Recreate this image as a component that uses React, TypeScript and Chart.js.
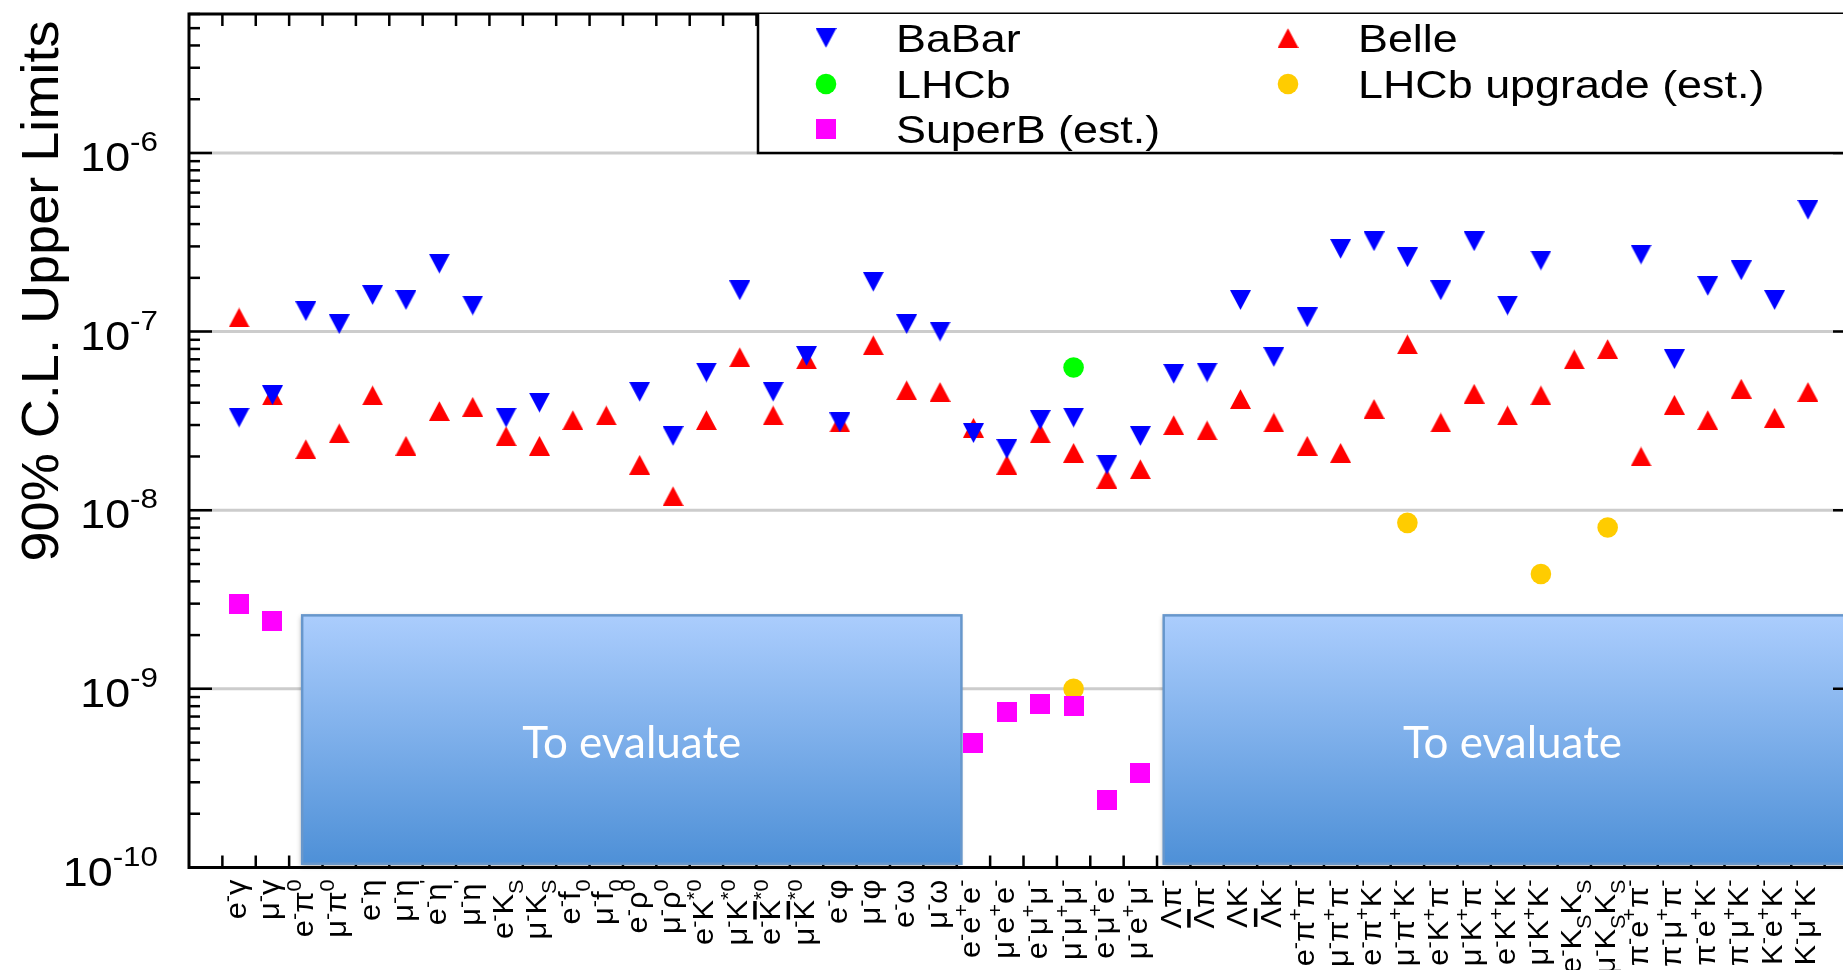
import React, { useEffect, useRef } from 'react';
import { Chart, registerables } from 'chart.js';

Chart.register(...registerables);

// ---------------- DATA ----------------
const categories: string[] = [
  'e^{-}γ', 'μ^{-}γ', 'e^{-}π^{0}', 'μ^{-}π^{0}', 'e^{-}η', 'μ^{-}η', "e^{-}η^{'}", "μ^{-}η^{'}",
  'e^{-}K_{S}', 'μ^{-}K_{S}', 'e^{-}f_{0}', 'μ^{-}f_{0}', 'e^{-}ρ^{0}', 'μ^{-}ρ^{0}',
  'e^{-}K^{*0}', 'μ^{-}K^{*0}', 'e^{-}#bar{K}^{*0}', 'μ^{-}#bar{K}^{*0}', 'e^{-}φ', 'μ^{-}φ',
  'e^{-}ω', 'μ^{-}ω', 'e^{-}e^{+}e^{-}', 'μ^{-}e^{+}e^{-}', 'e^{-}μ^{+}μ^{-}', 'μ^{-}μ^{+}μ^{-}',
  'e^{-}μ^{+}e^{-}', 'μ^{-}e^{+}μ^{-}', 'Λπ^{-}', '#bar{Λ}π^{-}', 'ΛK^{-}', '#bar{Λ}K^{-}',
  'e^{-}π^{+}π^{-}', 'μ^{-}π^{+}π^{-}', 'e^{-}π^{+}K^{-}', 'μ^{-}π^{+}K^{-}', 'e^{-}K^{+}π^{-}',
  'μ^{-}K^{+}π^{-}', 'e^{-}K^{+}K^{-}', 'μ^{-}K^{+}K^{-}', 'e^{-}K_{S}K_{S}', 'μ^{-}K_{S}K_{S}',
  'π^{-}e^{+}π^{-}', 'π^{-}μ^{+}π^{-}', 'π^{-}e^{+}K^{-}', 'π^{-}μ^{+}K^{-}', 'K^{-}e^{+}K^{-}', 'K^{-}μ^{+}K^{-}',
];

const babar: (number | null)[] = [
  3.3e-8, 4.4e-8, 1.3e-7, 1.1e-7, 1.6e-7, 1.5e-7, 2.4e-7, 1.4e-7,
  3.3e-8, 4.0e-8, null, null, 4.6e-8, 2.6e-8,
  5.9e-8, 1.7e-7, 4.6e-8, 7.3e-8, 3.1e-8, 1.9e-7,
  1.1e-7, 1.0e-7, 2.7e-8, 2.2e-8, 3.2e-8, 3.3e-8,
  1.8e-8, 2.6e-8, 5.8e-8, 5.9e-8, 1.5e-7, 7.2e-8,
  1.2e-7, 2.9e-7, 3.2e-7, 2.6e-7, 1.7e-7,
  3.2e-7, 1.4e-7, 2.5e-7, null, null,
  2.7e-7, 7.0e-8, 1.8e-7, 2.2e-7, 1.5e-7, 4.8e-7,
];

const belle: (number | null)[] = [
  1.2e-7, 4.4e-8, 2.2e-8, 2.7e-8, 4.4e-8, 2.3e-8, 3.6e-8, 3.8e-8,
  2.6e-8, 2.3e-8, 3.2e-8, 3.4e-8, 1.8e-8, 1.2e-8,
  3.2e-8, 7.2e-8, 3.4e-8, 7.0e-8, 3.1e-8, 8.4e-8,
  4.7e-8, 4.6e-8, 2.9e-8, 1.8e-8, 2.7e-8, 2.1e-8,
  1.5e-8, 1.7e-8, 3.0e-8, 2.8e-8, 4.2e-8, 3.1e-8,
  2.3e-8, 2.1e-8, 3.7e-8, 8.5e-8, 3.1e-8,
  4.5e-8, 3.4e-8, 4.4e-8, 7.0e-8, 8.0e-8,
  2.0e-8, 3.9e-8, 3.2e-8, 4.8e-8, 3.3e-8, 4.6e-8,
];

const lhcbIdx = [25];
const lhcbVal = [6.3e-8];
const upgradeIdx = [25, 35, 39, 41];
const upgradeVal = [1.0e-9, 8.5e-9, 4.4e-9, 8.0e-9];
const superbIdx = [0, 1, 22, 23, 24, 25, 26, 27];
const superbVal = [3.0e-9, 2.4e-9, 5.0e-10, 7.4e-10, 8.2e-10, 8.0e-10, 2.4e-10, 3.4e-10];

const yExponents = [-10, -9, -8, -7, -6];
const seriesNames = ['BaBar', 'Belle', 'LHCb', 'LHCb upgrade (est.)', 'SuperB (est.)'];
const yTitle = '90% C.L. Upper Limits';
const boxText = 'To evaluate';
// "To evaluate" regions, in category-index / value units
const boxFrom = [1.89, 27.7];
const boxTo = [21.64, 48.6];
const boxTop = 2.58e-9;
const boxBottom = 1.05e-10;

// ---------------- STYLE ----------------
const FONT = '"Liberation Sans", Arial, Helvetica, sans-serif';
const C_BLUE = '#0000ff';
const C_RED = '#ff0000';
const C_GREEN = '#00ff00';
const C_YELLOW = '#ffcc00';
const C_MAGENTA = '#ff00ff';

function makeMarker(kind: 'up' | 'down' | 'square', color: string): HTMLCanvasElement {
  const c = document.createElement('canvas');
  const w = kind === 'square' ? 20 : 21;
  const h = 20;
  c.width = w;
  c.height = h;
  const g = c.getContext('2d')!;
  g.fillStyle = color;
  g.beginPath();
  if (kind === 'up') {
    g.moveTo(w / 2, 0.3);
    g.lineTo(w, h);
    g.lineTo(0, h);
  } else if (kind === 'down') {
    g.moveTo(0, 0);
    g.lineTo(w, 0);
    g.lineTo(w / 2, h - 0.3);
  } else {
    g.rect(0, 0, w, h);
  }
  g.closePath();
  g.fill();
  return c;
}

type Seg = { t: string; m: 0 | 1 | 2; bar?: boolean };
function parseLabel(s: string): Seg[] {
  const segs: Seg[] = [];
  let i = 0;
  while (i < s.length) {
    if (s[i] === '^' || s[i] === '_') {
      const end = s.indexOf('}', i);
      segs.push({ t: s.slice(i + 2, end), m: s[i] === '^' ? 1 : 2 });
      i = end + 1;
    } else if (s.startsWith('#bar{', i)) {
      const end = s.indexOf('}', i);
      segs.push({ t: s.slice(i + 5, end), m: 0, bar: true });
      i = end + 1;
    } else {
      let j = i;
      while (j < s.length && s[j] !== '^' && s[j] !== '_' && !s.startsWith('#bar{', j)) j++;
      segs.push({ t: s.slice(i, j), m: 0 });
      i = j;
    }
  }
  return segs;
}

function richWidth(ctx: CanvasRenderingContext2D, segs: Seg[], base: number, small: number, gap: number) {
  let w = 0;
  for (const s of segs) {
    ctx.font = `${s.m ? small : base}px ${FONT}`;
    w += ctx.measureText(s.t).width + (s.m ? gap : 0);
  }
  return w;
}

function drawRich(
  ctx: CanvasRenderingContext2D, segs: Seg[], x0: number, y0: number,
  base: number, small: number, supDy: number, subDy: number, gap: number,
) {
  let x = x0;
  ctx.textAlign = 'left';
  ctx.textBaseline = 'alphabetic';
  for (const s of segs) {
    ctx.font = `${s.m ? small : base}px ${FONT}`;
    const dy = s.m === 1 ? supDy : s.m === 2 ? subDy : 0;
    if (s.m) x += gap / 2;
    ctx.fillText(s.t, x, y0 + dy);
    const w = ctx.measureText(s.t).width;
    if (s.bar) {
      ctx.save();
      ctx.lineWidth = 3.5;
      ctx.strokeStyle = ctx.fillStyle as string;
      ctx.beginPath();
      ctx.moveTo(x + 1, y0 - base * 0.84);
      ctx.lineTo(x + w - 1, y0 - base * 0.84);
      ctx.stroke();
      ctx.restore();
    }
    x += w;
    if (s.m) x += gap / 2;
  }
}

const decorPlugin = {
  id: 'decor',
  beforeDatasetsDraw(chart: any) {
    const { ctx, chartArea: a, scales } = chart;
    const x = scales.x;
    const y = scales.y;
    ctx.save();
    // horizontal grid at decades
    ctx.strokeStyle = '#cccccc';
    ctx.lineWidth = 3;
    for (const e of yExponents) {
      if (e === yExponents[0]) continue;
      const py = y.getPixelForValue(Math.pow(10, e));
      ctx.beginPath();
      ctx.moveTo(a.left, py);
      ctx.lineTo(a.right, py);
      ctx.stroke();
    }
    // bottom and top category ticks
    ctx.strokeStyle = '#000';
    ctx.lineWidth = 2.5;
    for (let i = -1; i < categories.length; i++) {
      const px = x.getPixelForValue(i + 0.5);
      if (px > a.right) continue;
      ctx.beginPath();
      ctx.moveTo(px, a.bottom);
      ctx.lineTo(px, a.bottom - 12);
      ctx.moveTo(px, a.top);
      ctx.lineTo(px, a.top + 12);
      ctx.stroke();
    }
    // "To evaluate" boxes
    for (let k = 0; k < boxFrom.length; k++) {
      const x0 = x.getPixelForValue(boxFrom[k]);
      const x1 = x.getPixelForValue(boxTo[k]);
      const y0 = y.getPixelForValue(boxTop);
      const y1 = y.getPixelForValue(boxBottom);
      const grad = ctx.createLinearGradient(0, y0, 0, y1);
      grad.addColorStop(0, '#abcdfd');
      grad.addColorStop(1, '#4e90d7');
      ctx.save();
      ctx.shadowColor = 'rgba(0,0,0,0.35)';
      ctx.shadowBlur = 5;
      ctx.shadowOffsetX = -1;
      ctx.shadowOffsetY = 2;
      ctx.fillStyle = grad;
      ctx.fillRect(x0, y0, x1 - x0, y1 - y0);
      ctx.restore();
      ctx.strokeStyle = '#6797cc';
      ctx.lineWidth = 2.5;
      ctx.strokeRect(x0, y0, x1 - x0, y1 - y0);
      ctx.fillStyle = '#ffffff';
      ctx.font = `44px Lato, "Open Sans", sans-serif`;
      ctx.textAlign = 'center';
      ctx.textBaseline = 'middle';
      ctx.fillText(boxText, (x0 + x1) / 2, (y0 + y1) / 2 + 4);
    }
    ctx.restore();
  },
  afterDatasetsDraw(chart: any) {
    const { ctx, chartArea: a, scales } = chart;
    const x = scales.x;
    const y = scales.y;
    ctx.save();
    ctx.strokeStyle = '#000';
    ctx.fillStyle = '#000';
    // frame
    ctx.lineWidth = 3;
    ctx.beginPath();
    ctx.moveTo(a.left, a.top);
    ctx.lineTo(a.right + 5, a.top);
    ctx.moveTo(a.left, a.top - 1.5);
    ctx.lineTo(a.left, a.bottom + 1.5);
    ctx.moveTo(a.left - 1.5, a.bottom);
    ctx.lineTo(a.right + 5, a.bottom);
    ctx.stroke();
    // y ticks
    ctx.lineWidth = 2.5;
    for (let e = yExponents[0]; e <= yExponents[yExponents.length - 1] + 1; e++) {
      for (let m = 1; m <= 9; m++) {
        const v = m * Math.pow(10, e);
        if (v > y.max || v < y.min) continue;
        const py = y.getPixelForValue(v);
        const len = m === 1 ? 23 : 11;
        ctx.beginPath();
        ctx.moveTo(a.left, py);
        ctx.lineTo(a.left + len, py);
        if (m === 1) {
          ctx.moveTo(a.right, py);
          ctx.lineTo(a.right - 10, py);
        }
        ctx.stroke();
      }
    }
    // y tick labels
    for (const e of yExponents) {
      const py = y.getPixelForValue(Math.pow(10, e));
      const segs = parseLabel(`10^{${e}}`);
      const w = richWidth(ctx, segs, 40, 28, 0) * 1.12;
      ctx.save();
      ctx.translate(158 - w, py + 18);
      ctx.scale(1.12, 1);
      drawRich(ctx, segs, 0, 0, 40, 28, -20, 0, 0);
      ctx.restore();
    }
    // x category labels (rotated)
    const LS = 1.03;
    for (let i = 0; i < categories.length; i++) {
      const segs = parseLabel(categories[i]);
      const px = x.getPixelForValue(i);
      const w = richWidth(ctx, segs, 30, 21, 0);
      ctx.save();
      ctx.translate(px + 7, a.bottom + 12);
      ctx.rotate(-Math.PI / 2);
      ctx.scale(LS, 1);
      drawRich(ctx, segs, -w, 0, 30, 21, -12, 10, 0);
      ctx.restore();
    }
    // y title
    ctx.save();
    ctx.translate(58, 291);
    ctx.rotate(-Math.PI / 2);
    ctx.scale(1.04, 1);
    ctx.font = `52px ${FONT}`;
    ctx.textAlign = 'center';
    ctx.textBaseline = 'alphabetic';
    ctx.fillText(yTitle, 0, 0);
    ctx.restore();

    // legend
    const lx = 758;
    const ly0 = a.top;
    const ly1 = y.getPixelForValue(1e-6);
    ctx.fillStyle = '#fff';
    ctx.fillRect(lx, ly0, a.right - lx + 5, ly1 - ly0);
    ctx.strokeStyle = '#000';
    ctx.lineWidth = 2.5;
    ctx.beginPath();
    ctx.moveTo(lx, ly0);
    ctx.lineTo(lx, ly1);
    ctx.lineTo(a.right + 5, ly1);
    ctx.stroke();
    const ds = chart.data.datasets;
    const pos = [
      [826, 38], [1288, 38], [826, 84], [1288, 84], [826, 129],
    ];
    for (let k = 0; k < seriesNames.length; k++) {
      const d = ds.find((q: any) => q.label === seriesNames[k]);
      const [mx, my] = pos[k];
      const st = d.pointStyle;
      if (st instanceof HTMLCanvasElement) {
        ctx.drawImage(st, mx - st.width / 2, my - st.height / 2);
      } else {
        ctx.fillStyle = d.backgroundColor;
        ctx.beginPath();
        ctx.arc(mx, my, d.pointRadius, 0, Math.PI * 2);
        ctx.fill();
      }
      ctx.fillStyle = '#000';
      ctx.save();
      ctx.translate(mx + 70, my + 14);
      ctx.scale(1.15, 1);
      ctx.font = `39px ${FONT}`;
      ctx.textAlign = 'left';
      ctx.textBaseline = 'alphabetic';
      ctx.fillText(seriesNames[k], 0, 0);
      ctx.restore();
    }
    ctx.restore();
  },
};

function toPoints(vals: (number | null)[]) {
  const out: { x: number; y: number }[] = [];
  vals.forEach((v, i) => {
    if (v != null) out.push({ x: i, y: v });
  });
  return out;
}
function toPointsIdx(idx: number[], vals: number[]) {
  return idx.map((i, k) => ({ x: i, y: vals[k] }));
}

export default function App() {
  const ref = useRef<HTMLCanvasElement | null>(null);
  useEffect(() => {
    if (!ref.current) return;
    const down = makeMarker('down', C_BLUE);
    const up = makeMarker('up', C_RED);
    const sq = makeMarker('square', C_MAGENTA);
    const common = { showLine: false, pointBorderWidth: 0, pointHoverRadius: 10, clip: false as any };
    const chart = new Chart(ref.current, {
      type: 'scatter',
      data: {
        datasets: [
          { label: 'BaBar', data: toPoints(babar), pointStyle: down as any, pointRadius: 10, backgroundColor: C_BLUE, borderColor: C_BLUE, ...common },
          { label: 'LHCb', data: toPointsIdx(lhcbIdx, lhcbVal), pointStyle: 'circle', pointRadius: 10.3, backgroundColor: C_GREEN, borderColor: C_GREEN, ...common },
          { label: 'Belle', data: toPoints(belle), pointStyle: up as any, pointRadius: 10, backgroundColor: C_RED, borderColor: C_RED, ...common },
          { label: 'SuperB (est.)', data: toPointsIdx(superbIdx, superbVal), pointStyle: sq as any, pointRadius: 10, backgroundColor: C_MAGENTA, borderColor: C_MAGENTA, ...common },
          { label: 'LHCb upgrade (est.)', data: toPointsIdx(upgradeIdx, upgradeVal), pointStyle: 'circle', pointRadius: 10.3, backgroundColor: C_YELLOW, borderColor: C_YELLOW, ...common },
        ],
      },
      options: {
        responsive: false,
        animation: false,
        layout: { autoPadding: false, padding: { top: 14, right: 0, left: 0, bottom: 0 } },
        plugins: { legend: { display: false }, tooltip: { enabled: false }, title: { display: false } },
        scales: {
          x: {
            type: 'linear', min: -1.5, max: 48.05,
            grid: { display: false }, border: { display: false }, ticks: { display: false },
            afterFit: (s: any) => { s.height = 102.5; },
          },
          y: {
            type: 'logarithmic', min: 1e-10, max: 6e-6,
            grid: { display: false }, border: { display: false }, ticks: { display: false },
            afterFit: (s: any) => { s.width = 189; },
          },
        },
      } as any,
      plugins: [decorPlugin],
    });
    return () => chart.destroy();
  }, []);
  return (
    <div style={{ position: 'fixed', left: 0, top: 0, width: 1843, height: 970, background: '#fff' }}>
      <canvas ref={ref} width={1843} height={970} style={{ display: 'block' }} />
    </div>
  );
}
